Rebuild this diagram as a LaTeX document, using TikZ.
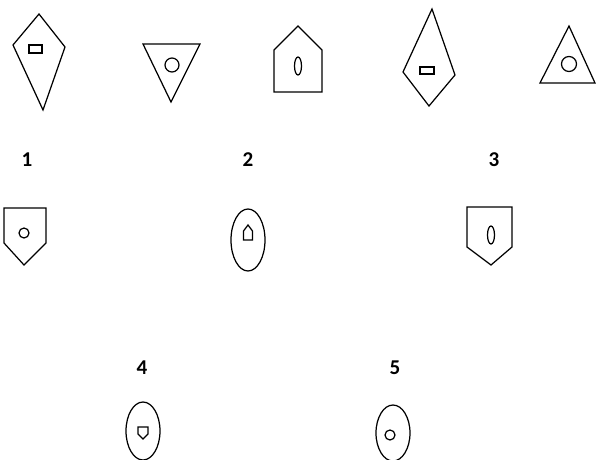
\documentclass[tikz,border=0pt]{standalone}
\usepackage{fontspec}
\setmainfont{Carlito}
\usepackage{tikz}
\tikzset{fig/.style={line width=0.7pt,line join=miter},
  num/.style={font=\fontsize{12}{14}\selectfont\bfseries,inner sep=0pt}}

\begin{document}
\begin{tikzpicture}[x=0.02cm,y=-0.02cm]
            \useasboundingbox (0,0) rectangle (596,460);
            % top row
            \draw[fig](39,14)--(13,45)--(43,110)--(65,47)--cycle;
            \draw[fig](29,45) rectangle (42,53);
            \draw[fig](143,44)--(200,44)--(171,102)--cycle;
            \draw[fig](172,65) circle(7);
            \draw[fig](298,26)--(322,50)--(322,92)--(274,92)--(274,50)--cycle;
            \draw[fig](298,66) ellipse(3.5 and 9);
            \draw[fig](432,9)--(455,75)--(429,106)--(403,72)--cycle;
            \draw[fig](420,67) rectangle (434,74);
            \draw[fig](569,26)--(595,83)--(540,83)--cycle;
            \draw[fig](569,64) circle(7.5);
             \node[num] (n1) at (27,160) {1};
             \node[num] (n2) at (248,160) {2};
             \node[num] (n3) at (494,160) {3};
            % answers
            \draw[fig](4,208)--(46,208)--(46,243)--(24,265)--(4,243)--cycle;
            \draw[fig](24,233) circle(5);
            \draw[fig](248,240) ellipse(17 and 31);
            \draw[fig](248,225)--(252.5,231)--(252.5,240)--(243.5,240)--(243.5,231)--cycle;
            \draw[fig](467,207)--(512,207)--(512,247)--(491,265)--(467,247)--cycle;
            \draw[fig](491,235) ellipse(3.5 and 9);
             \node[num] (n4) at (142,368) {4};
             \node[num] (n5) at (395,368) {5};
            \draw[fig](143,431) ellipse(17 and 29);
            \draw[fig](138,427)--(148,427)--(148,434)--(143,439)--(138,434)--cycle;
            \draw[fig](393,433) ellipse(17 and 28);
            \draw[fig](390,435) circle(5);
      \end{tikzpicture}
\end{document}
